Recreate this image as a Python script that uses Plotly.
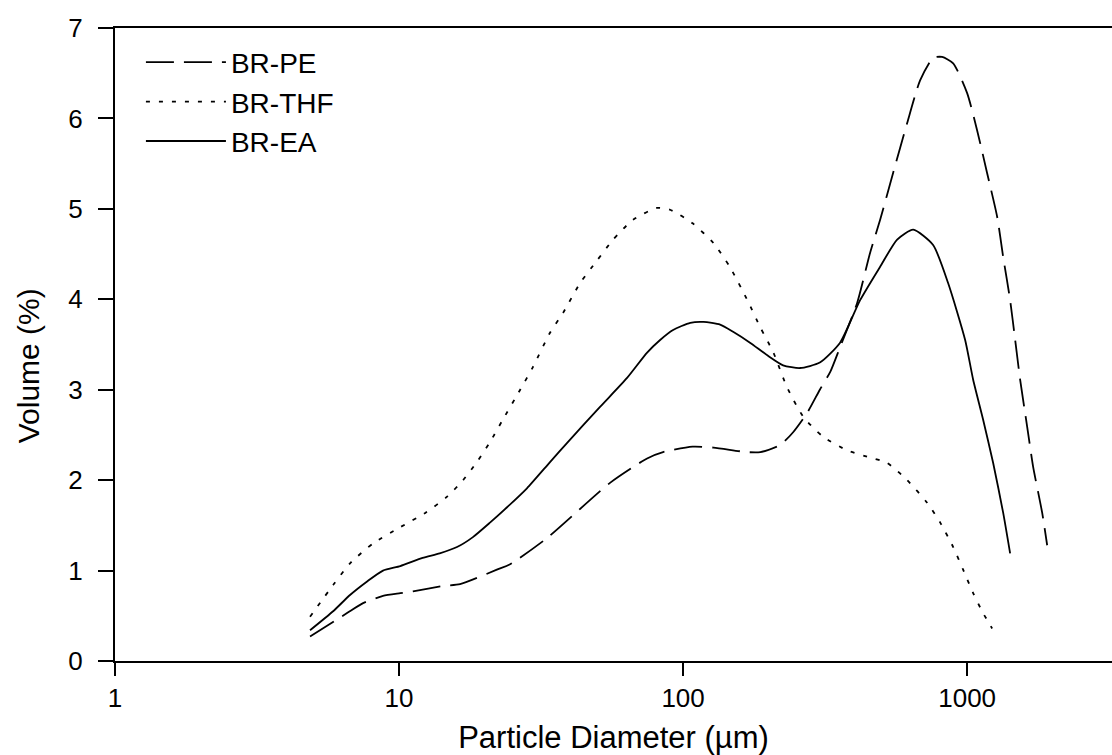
import plotly.graph_objects as go

# BR-PE (long dashes)
pe_x = [4.86, 6.56, 7.47, 8.78, 10.1, 11.2, 14.3, 16.4, 22.1, 24.6, 33.2, 55.3, 74.7, 85.0, 108, 128,
        168, 187, 220, 244, 273, 303, 330, 357, 410, 455, 494, 549, 615, 683, 759, 816, 893, 1000,
        1084, 1175, 1276, 1339, 1417, 1476, 1537, 1627, 1707, 1837, 1913]
pe_y = [0.27, 0.53, 0.64, 0.72, 0.75, 0.77, 0.83, 0.85, 1.01, 1.07, 1.36, 1.97, 2.24, 2.31, 2.37, 2.36,
        2.31, 2.31, 2.39, 2.53, 2.74, 3.00, 3.20, 3.47, 3.96, 4.51, 4.88, 5.40, 5.95, 6.42, 6.67, 6.68,
        6.61, 6.28, 5.87, 5.40, 4.91, 4.47, 3.99, 3.55, 3.11, 2.59, 2.15, 1.64, 1.28]

# BR-THF (dotted)
thf_x = [4.86, 5.86, 6.72, 8.10, 10.1, 12.4, 14.8, 16.8, 18.8, 20.9, 23.2, 26.7, 29.6, 34.0, 37.8,
         43.4, 49.8, 56.7, 66.7, 80.9, 90.0, 108, 128, 146, 169, 187, 208, 232, 265, 311, 378, 444,
         523, 615, 723, 804, 893, 968, 1050, 1138, 1225]
thf_y = [0.49, 0.84, 1.08, 1.30, 1.48, 1.64, 1.82, 2.00, 2.20, 2.42, 2.67, 3.00, 3.25, 3.63, 3.85,
         4.18, 4.43, 4.66, 4.88, 5.01, 4.99, 4.84, 4.62, 4.36, 3.98, 3.69, 3.41, 3.03, 2.70, 2.48, 2.33,
         2.26, 2.19, 2.00, 1.75, 1.53, 1.26, 1.01, 0.75, 0.53, 0.36]

# BR-EA (solid)
ea_x = [4.86, 5.86, 6.72, 7.72, 8.78, 10.1, 12.1, 13.9, 16.0, 18.2, 20.9, 24.0, 28.2, 34.0, 39.0,
        51.0, 63.5, 74.7, 83.0, 92.2, 106, 118, 135, 150, 172, 198, 225, 258, 303, 357, 420, 494,
        567, 646, 759, 857, 984, 1050, 1138, 1235, 1339, 1417]
ea_y = [0.34, 0.55, 0.73, 0.88, 1.00, 1.05, 1.14, 1.19, 1.26, 1.37, 1.53, 1.70, 1.91, 2.20, 2.41,
        2.81, 3.13, 3.41, 3.55, 3.66, 3.74, 3.75, 3.72, 3.64, 3.52, 3.38, 3.27, 3.24, 3.30, 3.52, 3.99,
        4.36, 4.66, 4.77, 4.60, 4.18, 3.55, 3.11, 2.67, 2.19, 1.64, 1.19]

x_ticks = [1, 10, 100, 1000]
x_tick_labels = ["1", "10", "100", "1000"]
y_ticks = [0, 1, 2, 3, 4, 5, 6, 7]

FONT = "Arial, Liberation Sans, sans-serif"

fig = go.Figure()
fig.add_trace(go.Scatter(x=pe_x, y=pe_y, mode="lines", name="BR-PE",
                         line=dict(color="black", width=1.8, dash="28px,10px", shape="spline", smoothing=0.6)))
fig.add_trace(go.Scatter(x=thf_x, y=thf_y, mode="lines", name="BR-THF",
                         line=dict(color="black", width=1.8, dash="4px,9px", shape="spline", smoothing=0.6)))
fig.add_trace(go.Scatter(x=ea_x, y=ea_y, mode="lines", name="BR-EA",
                         line=dict(color="black", width=1.8, shape="spline", smoothing=0.6)))

fig.update_layout(
    width=1112, height=755,
    margin=dict(l=115, r=0, t=28, b=94),
    paper_bgcolor="white", plot_bgcolor="white",
    font=dict(family=FONT, color="black"),
    showlegend=True,
    legend=dict(x=0.026, y=0.985, xanchor="left", yanchor="top",
                font=dict(size=28, family=FONT), bgcolor="rgba(0,0,0,0)",
                itemwidth=80, tracegroupgap=0),
    xaxis=dict(type="log", range=[0, 3.51], tickvals=x_ticks, ticktext=x_tick_labels,
               showgrid=False, zeroline=False, showline=True, linecolor="black", linewidth=2,
               mirror=True, ticks="outside", ticklen=13, tickwidth=2, tickcolor="black",
               tickfont=dict(size=26, family=FONT), ticklabelstandoff=0,
               title=dict(text="Particle Diameter (µm)", font=dict(size=31, family=FONT), standoff=14)),
    yaxis=dict(range=[0, 7], tickvals=y_ticks, showgrid=False, zeroline=False,
               showline=True, linecolor="black", linewidth=2, mirror=False,
               ticks="outside", ticklen=15, tickwidth=2, tickcolor="black",
               tickfont=dict(size=26, family=FONT), ticklabelstandoff=10),
    annotations=[dict(text="Volume (%)", textangle=-90, xref="paper", yref="paper",
                      x=-0.087, y=0.466, xanchor="center", yanchor="middle", showarrow=False,
                      font=dict(size=30, family=FONT, color="black"))],
)

fig.write_html("out.html")
